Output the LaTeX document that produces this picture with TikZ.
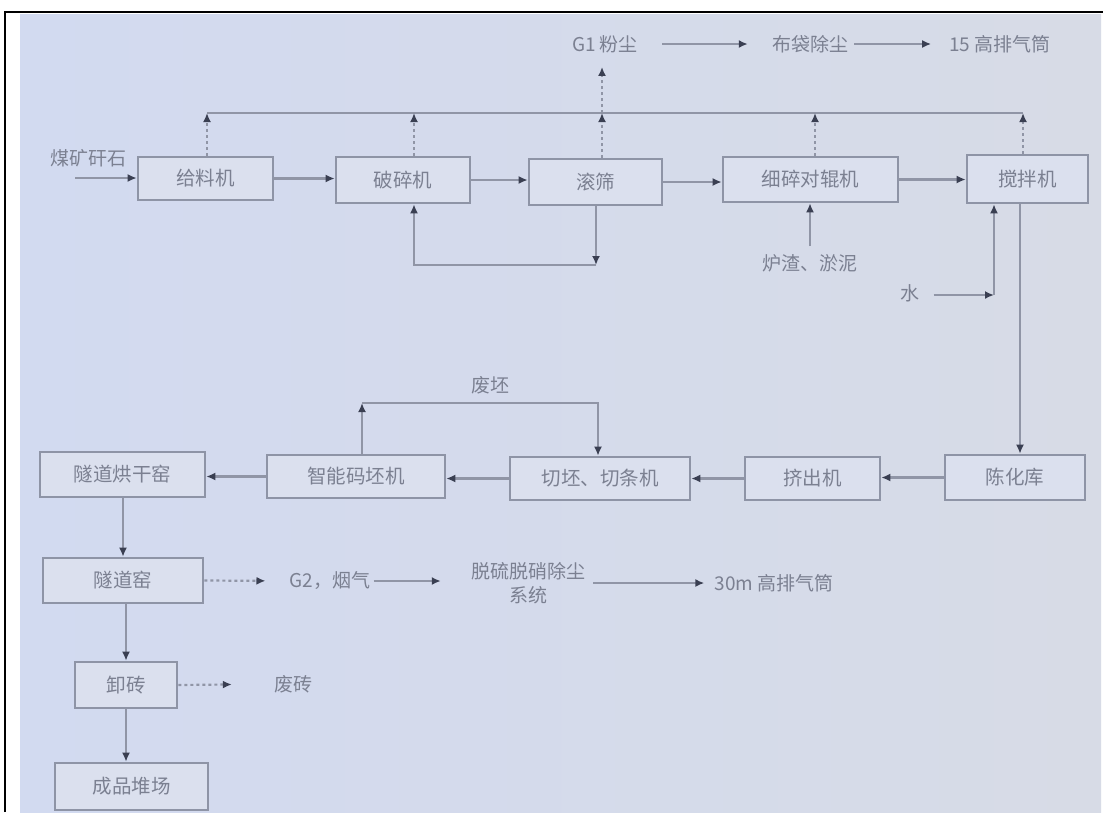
\documentclass[tikz,border=0pt]{standalone}
\usepackage{fontspec}
\newfontfamily\cjk{Noto Sans CJK SC}
\usetikzlibrary{arrows.meta,calc}
\definecolor{bgl}{HTML}{D2DAF0}
\definecolor{bgr}{HTML}{D7DBE6}
\definecolor{boxfill}{HTML}{DBE0EE}
\definecolor{boxc}{HTML}{8E94A6}
\definecolor{linec}{HTML}{9095A6}
\definecolor{headc}{HTML}{3A3F52}
\definecolor{txt}{HTML}{7B8091}
\tikzset{
  box/.style={draw=boxc, line width=2.6pt, fill=boxfill, inner sep=0pt, text=txt, font=\cjk\fontsize{19.5}{24}\selectfont},
  lbl/.style={inner sep=0pt, text=txt, font=\cjk\fontsize{19}{24}\selectfont},
  arr/.style={draw=linec, line width=2.2pt, -{Latex[length=9pt,width=8pt,color=headc]}},
  plain/.style={draw=linec, line width=2.2pt},
  gas/.style={arr, dash pattern=on 3pt off 3pt},
}
\begin{document}
\begin{tikzpicture}[x=1pt,y=-1pt]
\useasboundingbox (0,0) rectangle (1113,812);
\fill[white] (0,0) rectangle (1113,812);
\shade[left color=bgl,right color=bgr] (20,14) rectangle (1101,812);
\draw[black,line width=2.5pt] (5,812) -- (5,12) -- (1103,12);

% row 1
\node[box,minimum width=135pt,minimum height=43pt] (n1) at (205.5,178.5) {给料机};
\node[box,minimum width=134pt,minimum height=46pt] (n2) at (403,180) {破碎机};
\node[box,minimum width=133pt,minimum height=46pt] (n3) at (595.5,182) {滚筛};
\node[box,minimum width=175pt,minimum height=45pt] (n4) at (810.5,179.5) {细碎对辊机};
\node[box,minimum width=121pt,minimum height=48pt] (n5) at (1027.5,179) {搅拌机};

% row 2
\node[box,minimum width=165pt,minimum height=45pt] (m1) at (122.5,474.5) {隧道烘干窑};
\node[box,minimum width=178pt,minimum height=43pt] (m2) at (356,476.5) {智能码坯机};
\node[box,minimum width=180pt,minimum height=43pt] (m3) at (600,478.5) {切坯、切条机};
\node[box,minimum width=135pt,minimum height=43pt] (m4) at (812.5,478.5) {挤出机};
\node[box,minimum width=140pt,minimum height=45pt] (m5) at (1015,477.5) {陈化库};

% column
\node[box,minimum width=160pt,minimum height=45pt] (p1) at (123,580.5) {隧道窑};
\node[box,minimum width=102pt,minimum height=46pt] (p2) at (126,685) {卸砖};
\node[box,minimum width=153pt,minimum height=47pt] (p3) at (131.5,786.5) {成品堆场};

% labels
\node[lbl] (src) at (88,158) {煤矿矸石};
\node[lbl] (g1) at (605,44) {G1 粉尘};
\node[lbl] (bd) at (810,44) {布袋除尘};
\node[lbl] (s15) at (1000,44) {15 高排气筒};
\node[lbl] (slag) at (810,263) {炉渣、淤泥};
\node[lbl] (water) at (910,293) {水};
\node[lbl] (fp) at (490,385) {废坯};
\node[lbl] (g2) at (330,581) {G2，烟气};
\node[lbl,align=center] (ds) at (528,583) {脱硫脱硝除尘\\系统};
\node[lbl] (s30) at (774,583) {30m 高排气筒};
\node[lbl] (fz) at (293,684) {废砖};

% coordinates
\coordinate (t1) at (207,113);
\coordinate (t2) at (414,113);
\coordinate (t3) at (602,113);
\coordinate (t4) at (815,113);
\coordinate (t5) at (1023,113);
\coordinate (s0) at (75,178);
\coordinate (c1) at (596,265);
\coordinate (c2) at (414,265);
\coordinate (cw) at (994,295);
\coordinate (d1) at (1020,300);
\coordinate (e1) at (362,403);
\coordinate (e2) at (598,403);
\coordinate (v1) at (123,530);
\coordinate (v2) at (126,630);

% dust collection line
\draw[plain] (t1) -- (t5);
\foreach \t/\n in {t1/n1,t2/n2,t3/n3,t4/n4,t5/n5}
  \draw[gas] (\t |- \n.north) -- (\t);
\draw[gas, shorten >=14pt] (t3) -- (t3 |- g1.south);
\draw[arr, shorten <=24pt, shorten >=24pt] (g1.east) -- (bd.west);
\draw[arr, shorten <=6pt, shorten >=18pt] (bd.east) -- (s15.west);

% main flow row 1
\draw[arr] (s0) -- (s0 -| n1.west);
\draw[arr] (n1.east) -- (n1.east -| n2.west);
\draw[arr] (n2.east) -- (n2.east -| n3.west);
\draw[arr] (n3.east) -- (n3.east -| n4.west);
\draw[arr] (n4.east) -- (n4.east -| n5.west);

% screen return loop
\draw[arr] (c1 |- n3.south) -- (c1);
\draw[arr] (c1) -- (c2) -- (c2 |- n2.south);

% additives
\draw[arr, shorten <=8pt] (slag.north) -- (slag.north |- n4.south);
\draw[arr, shorten <=14pt] (water.east |- cw) -- (cw);
\draw[arr] (cw) -- (cw |- n5.south);

% to aging store
\draw[arr] (d1 |- n5.south) -- (d1 |- m5.north);

% row 2 flow
\draw[arr] (m5.west) -- (m5.west -| m4.east);
\draw[arr] (m4.west) -- (m4.west -| m3.east);
\draw[arr] (m3.west) -- (m3.west -| m2.east);
\draw[arr] (m2.west) -- (m2.west -| m1.east);

% waste green-brick return
\draw[arr] (e1 |- m2.north) -- (e1);
\draw[arr] (e1) -- (e2) -- (e2 |- m3.north);

% column flow
\draw[arr] (v1 |- m1.south) -- (v1 |- p1.north);
\draw[arr] (v2 |- p1.south) -- (v2 |- p2.north);
\draw[arr] (v2 |- p2.south) -- (v2 |- p3.north);

% flue gas
\draw[gas, shorten >=24pt] (p1.east) -- (g2.west);
\draw[arr, shorten <=3pt, shorten >=30pt] (g2.east) -- (g2.east -| ds.west);
\draw[arr, shorten <=8pt, shorten >=10pt] (ds.east |- s30.west) -- (s30.west);
\draw[gas, shorten >=42pt] (p2.east) -- (fz.west);
\end{tikzpicture}
\end{document}
